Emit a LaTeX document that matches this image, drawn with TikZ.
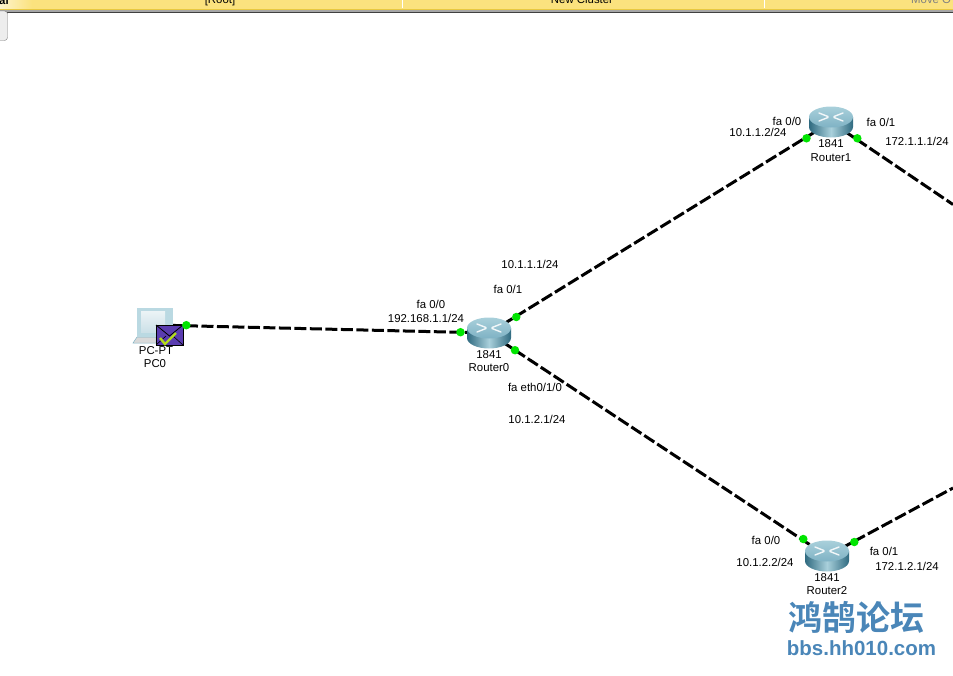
\documentclass[tikz,border=0pt]{standalone}
\usepackage{fontspec}
\setmainfont{Liberation Sans}
\newfontfamily\cjkfont{Noto Sans CJK SC}[BoldFont={Noto Sans CJK SC Bold}]
\usetikzlibrary{backgrounds,calc}
\definecolor{band}{HTML}{FBE27E}
\definecolor{bandedge}{HTML}{E8C840}
\definecolor{routerdark}{HTML}{2F6A80}
\definecolor{routerlight}{HTML}{A9D0DB}
\definecolor{routertop}{HTML}{7FB2C4}
\definecolor{envfill}{HTML}{5A3CB0}
\definecolor{wm}{HTML}{4A86B8}
\tikzset{
  lbl/.style={font=\fontsize{11.4}{13}\selectfont,inner sep=0pt,text=black},
  hdr/.style={font=\fontsize{11.4}{13}\selectfont,inner sep=0pt,anchor=base},
  port/.style={circle,fill=green!90!black,draw=none,minimum size=8.5pt,inner sep=0pt},
  link/.style={draw=black,line width=3pt,dash pattern=on 12pt off 3.5pt},
  dev/.style={inner sep=0pt,minimum size=2pt},
}
\newcommand{\routericon}[1]{%
  \begin{scope}[shift={(#1)}]
    \path[left color=routerdark,right color=routerdark,middle color=routerlight]
      (-22,-5) -- (-22,5) .. controls (-22,10.8) and (-12,15.5) .. (0,15.5)
      .. controls (12,15.5) and (22,10.8) .. (22,5) -- (22,-5) -- cycle;
    \path[top color=routerlight,bottom color=routertop]
      (-22,-5) .. controls (-22,-10.8) and (-12,-15.5) .. (0,-15.5)
      .. controls (12,-15.5) and (22,-10.8) .. (22,-5)
      .. controls (22,0.8) and (12,5.5) .. (0,5.5)
      .. controls (-12,5.5) and (-22,0.8) .. (-22,-5) -- cycle;
    \draw[white!90!routertop,line width=1.4pt,line cap=round]
      (-12,-9) -- (-3,-5.5) (3,-4.5) -- (12,-1) (-12,-1) -- (-3,-4.5) (3,-5.5) -- (12,-9);
  \end{scope}}
\begin{document}
\begin{tikzpicture}[x=1pt,y=-1pt]
\useasboundingbox (0,0) rectangle (953,675);
% top bar
\path[fill=band] (0,0) rectangle (953,8.5);
\path[left color=white!60!band,right color=band] (0,0) rectangle (32,8.5);
\path[fill=bandedge] (0,8.5) rectangle (953,10);
\path[fill=gray!70] (0,10) rectangle (953,11.5);
\path[fill=black!75] (0,11.5) rectangle (953,13.3);
\path[fill=white] (401.5,0) rectangle (403,8);
\path[fill=white] (763.5,0) rectangle (765,8);
\node[hdr,font=\fontsize{11.4}{13}\selectfont\bfseries] (h1) at (4,4) {al};
\node[hdr] (h2) at (220,3.5) {[Root]};
\node[hdr] (h3) at (582,3.5) {New Cluster};
\node[hdr,anchor=base west,text=gray] (h4) at (911,3.5) {Move O};
% left tab
\path[draw=gray,fill=black!7,rounded corners=3pt] (-5,11) rectangle (7.5,40.5);
% device anchors
\node[dev] (pc) at (155,325) {};
\node[dev] (r0) at (489,333) {};
\node[dev] (r1) at (831,122) {};
\node[dev] (r2) at (827,556) {};
\coordinate (e1) at (953,204.5);
\coordinate (e2) at (953,488);
% connectors
\begin{scope}[on background layer]
\draw[link] (pc.center) -- (r0.center);
\draw[link] (r0.center) -- (r1.center);
\draw[link] (r0.center) -- (r2.center);
\draw[link] (r1.center) -- (e1);
\draw[link] (r2.center) -- (e2);
\end{scope}
% routers
\routericon{489,333}
\routericon{831,122}
\routericon{827,556}
% PC
\path[fill=black!15,draw=routertop,line width=.5pt] (137,337) -- (156,337) -- (156,343) -- (133,343) -- cycle;
\path[fill=routerlight!80] (137,308) rectangle (173,337);
\path[top color=white!85!routertop,bottom color=white!60!routertop] (141,311) rectangle (165,332);
% envelope
\path[fill=envfill,draw=black,line width=.8pt] (156,325) rectangle (183,345);
\draw[black,line width=.8pt] (156,325) -- (169.5,336) -- (183,325);
\draw[black,line width=.6pt] (156,345) -- (166,336);
\draw[black,line width=.6pt] (183,345) -- (173,336);
\draw[yellow!70!green,line width=2.4pt] (160,338) -- (165,344) -- (176,333);
% ports
\node[port] (p0) at (186.3,325.2) {};
\node[port] (p1) at (460.5,332.2) {};
\node[port] (p2) at (516.3,317) {};
\node[port] (p3) at (515,350.2) {};
\node[port] (p4) at (806.5,138.3) {};
\node[port] (p5) at (857.3,138.3) {};
\node[port] (p6) at (803.3,539) {};
\node[port] (p7) at (854.3,542) {};
% labels
\node[lbl] (t1) at (156,351) {PC-PT};
\node[lbl] (t2) at (155,364) {PC0};
\node[lbl] (t3) at (431,304) {fa 0/0};
\node[lbl,fill=white] (t4) at (426,318) {192.168.1.1/24};
\node[lbl] (t5) at (489,355) {1841};
\node[lbl] (t6) at (489,368) {Router0};
\node[lbl] (t7) at (530,264) {10.1.1.1/24};
\node[lbl] (t8) at (508,289) {fa 0/1};
\node[lbl] (t9) at (535,387) {fa eth0/1/0};
\node[lbl] (t10) at (537,419) {10.1.2.1/24};
\node[lbl] (t11) at (787,121) {fa 0/0};
\node[lbl] (t12) at (758,132) {10.1.1.2/24};
\node[lbl] (t13) at (881,122) {fa 0/1};
\node[lbl] (t14) at (917,141) {172.1.1.1/24};
\node[lbl] (t15) at (831,144) {1841};
\node[lbl] (t16) at (831,158) {Router1};
\node[lbl] (t17) at (766,540) {fa 0/0};
\node[lbl] (t18) at (765,562) {10.1.2.2/24};
\node[lbl] (t19) at (884,551) {fa 0/1};
\node[lbl] (t20) at (907,566) {172.1.2.1/24};
\node[lbl] (t21) at (827,578) {1841};
\node[lbl] (t22) at (827,591) {Router2};
% watermark
\node[inner sep=0pt,text=wm,font=\cjkfont\bfseries\fontsize{34}{36}\selectfont] (w1) at (856,617.5) {鸿鹄论坛};
\node[inner sep=0pt,text=wm,font=\bfseries\fontsize{20.5}{22}\selectfont] (w2) at (861.5,648) {bbs.hh010.com};
\end{tikzpicture}
\end{document}
